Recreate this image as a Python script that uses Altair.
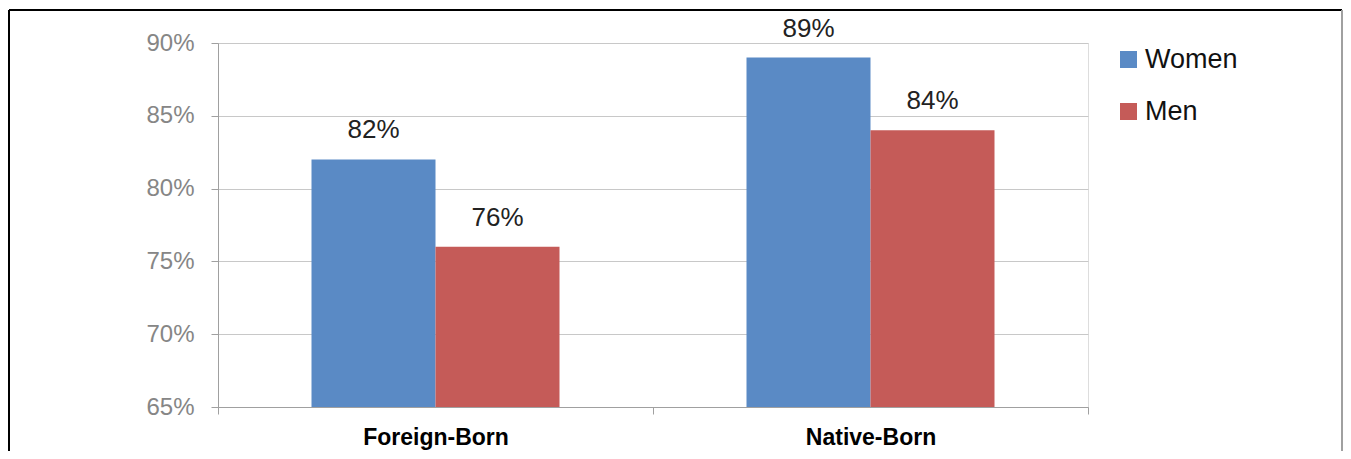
import altair as alt
import pandas as pd

categories = ["Foreign-Born", "Foreign-Born", "Native-Born", "Native-Born"]
series = ["Women", "Men", "Women", "Men"]
values = [0.82, 0.76, 0.89, 0.84]
y_ticks = [0.65, 0.70, 0.75, 0.80, 0.85, 0.90]

df = pd.DataFrame({"category": categories, "series": series, "value": values})

FONT = "Liberation Sans"

color = alt.Color(
    "series:N",
    scale=alt.Scale(domain=["Women", "Men"], range=["#5A8AC5", "#C55B58"]),
    legend=alt.Legend(
        title=None,
        orient="none",
        legendX=897,
        legendY=3,
        symbolType="square",
        symbolSize=290,
        symbolStrokeWidth=0,
        labelFontSize=27,
        labelFont=FONT,
        labelColor="#111111",
        rowPadding=24,
        labelOffset=3,
    ),
)

x = alt.X(
    "category:N",
    title=None,
    sort=["Foreign-Born", "Native-Born"],
    scale=alt.Scale(paddingInner=0, paddingOuter=0),
    axis=alt.Axis(
        labelAngle=0,
        labelFont=FONT,
        labelFontSize=23,
        labelFontWeight="bold",
        labelColor="#000000",
        labelPadding=12,
        tickBand="extent",
        tickSize=7,
        tickColor="#A0A0A0",
        domainColor="#A0A0A0",
        grid=False,
    ),
)

y = alt.Y(
    "value:Q",
    title=None,
    scale=alt.Scale(domain=[0.65, 0.90], nice=False, zero=False),
    axis=alt.Axis(
        values=y_ticks,
        format=".0%",
        labelFont=FONT,
        labelFontSize=24,
        labelColor="#868686",
        labelPadding=17,
        tickSize=7,
        tickColor="#A0A0A0",
        domainColor="#A0A0A0",
        gridColor="#C8C8C8",
    ),
)

base = alt.Chart(df).encode(
    x=x,
    xOffset=alt.XOffset(
        "series:N",
        sort=["Women", "Men"],
        scale=alt.Scale(paddingInner=0, paddingOuter=0.754),
    ),
    y=y,
)

bars = base.mark_bar().encode(color=color, y2=alt.datum(0.65))
labels = base.mark_text(
    baseline="alphabetic", dy=-21, font=FONT, fontSize=26, color="#222222"
).encode(text=alt.Text("value:Q", format=".0%"))

frame_df = pd.DataFrame({"k": [0]})
left_border = alt.Chart(frame_df).mark_rule(color="#000000", strokeWidth=2).encode(
    x=alt.value(-209), y=alt.value(-33), y2=alt.value(420)
)
top_border = alt.Chart(frame_df).mark_rule(color="#000000", strokeWidth=2).encode(
    x=alt.value(-209), x2=alt.value(1124), y=alt.value(-33)
)
right_border = alt.Chart(frame_df).mark_rule(color="#A0A0A0", strokeWidth=2).encode(
    x=alt.value(1124), y=alt.value(-33), y2=alt.value(420)
)

chart = (
    alt.layer(bars, labels, left_border, top_border, right_border)
    .properties(
        width=870,
        height=364,
        autosize=alt.AutoSizeParams(type="none"),
        padding={"left": 210, "top": 35, "right": 255, "bottom": 44},
    )
    .configure_view(stroke=None)
    .configure(background="#FFFFFF")
)

chart.save("out.html", embed_options={"renderer": "svg", "actions": False})
